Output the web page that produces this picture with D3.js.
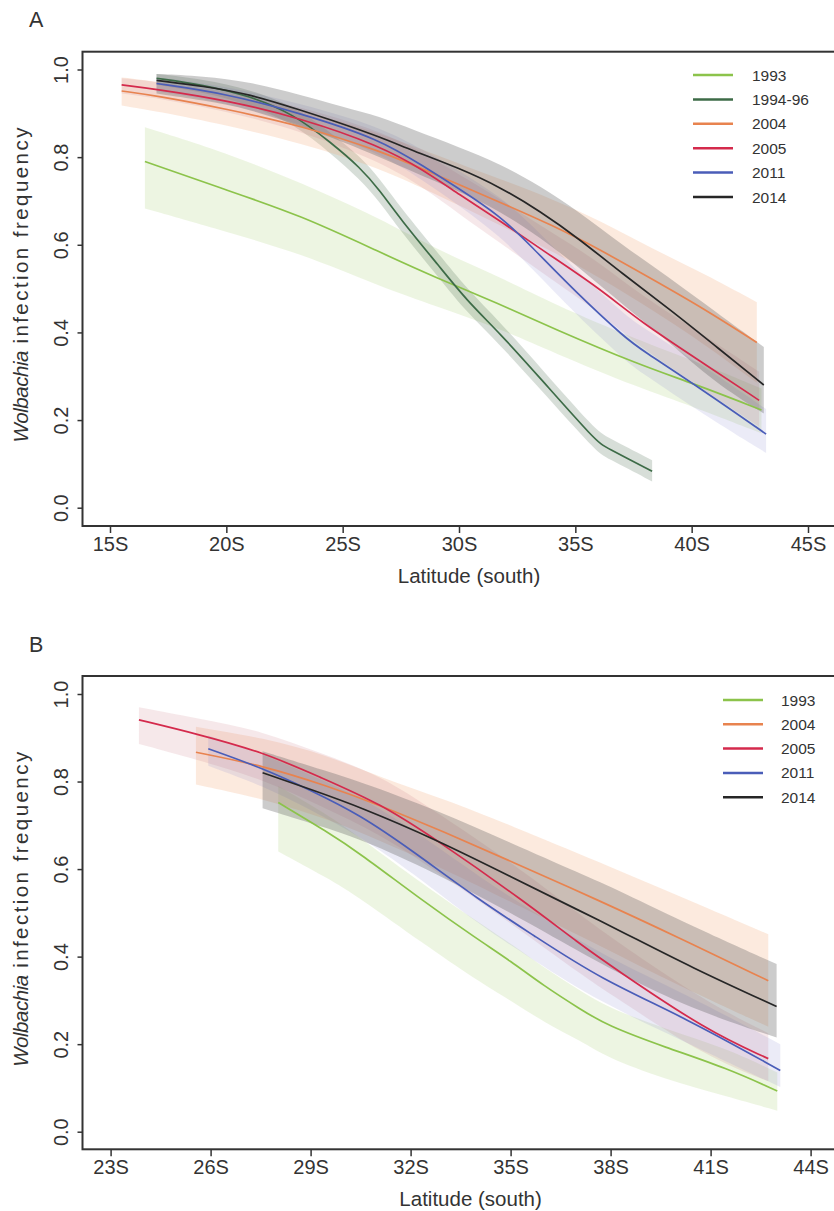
<!DOCTYPE html>
<meta charset="utf-8">
<style>
  body { margin: 0; background: #fff; }
  text { font-family: "Liberation Sans", Arial, sans-serif; fill: #333; }
</style>
<div id="chart"></div>
<script src="https://cdnjs.cloudflare.com/ajax/libs/d3/7.8.5/d3.min.js"></script>
<script>

// rows: [latitude south, fitted frequency, lower band, upper band]
const a1993 = [[16.5, 0.79, 0.683, 0.868], [20, 0.725, 0.63, 0.81], [23.2, 0.667, 0.58, 0.742],
               [26.6, 0.583, 0.505, 0.66], [29, 0.525, 0.46, 0.59], [31.7, 0.466, 0.41, 0.528],
               [34, 0.41, 0.355, 0.466], [37.8, 0.325, 0.272, 0.38], [40, 0.285, 0.232, 0.338],
               [43, 0.223, 0.17, 0.272]];
const a1994 = [[17, 0.98, 0.965, 0.99], [19, 0.965, 0.948, 0.978], [21, 0.94, 0.92, 0.955],
               [22.9, 0.898, 0.876, 0.916], [24.5, 0.833, 0.808, 0.856], [25.74, 0.777, 0.75, 0.802],
               [26.6, 0.724, 0.697, 0.75], [27.46, 0.66, 0.633, 0.687], [29.18, 0.549, 0.522, 0.576],
               [30.33, 0.473, 0.446, 0.5], [31.76, 0.398, 0.372, 0.424], [33.5, 0.295, 0.27, 0.32],
               [35.9, 0.151, 0.128, 0.176], [36.3, 0.138, 0.115, 0.163], [38.3, 0.083, 0.06, 0.108]];
const a2004 = [[15.5, 0.951, 0.918, 0.982], [17, 0.94, 0.905, 0.972], [20, 0.91, 0.873, 0.944],
               [23.2, 0.872, 0.832, 0.908], [26.6, 0.815, 0.775, 0.855], [29, 0.76, 0.715, 0.805],
               [31.76, 0.697, 0.645, 0.75], [34, 0.645, 0.585, 0.705], [36.06, 0.589, 0.525, 0.655],
               [38.35, 0.52, 0.45, 0.59], [40.5, 0.455, 0.375, 0.535], [42.8, 0.377, 0.285, 0.469]];
const a2005 = [[15.5, 0.965, 0.945, 0.98], [17, 0.955, 0.935, 0.972], [20, 0.93, 0.905, 0.952],
               [23.2, 0.889, 0.86, 0.915], [26.6, 0.826, 0.79, 0.86], [28.5, 0.77, 0.73, 0.81],
               [30, 0.715, 0.67, 0.76], [31.76, 0.655, 0.605, 0.705], [33.6, 0.587, 0.535, 0.64],
               [36.06, 0.5, 0.445, 0.56], [37.8, 0.424, 0.365, 0.485], [40.5, 0.33, 0.27, 0.395],
               [42.9, 0.245, 0.185, 0.31]];
const a2011 = [[17, 0.968, 0.95, 0.982], [20, 0.945, 0.925, 0.962], [23.2, 0.9, 0.875, 0.922],
               [26.6, 0.841, 0.81, 0.87], [28.5, 0.778, 0.745, 0.815], [30, 0.728, 0.69, 0.77],
               [31.76, 0.666, 0.62, 0.71], [33.05, 0.6, 0.55, 0.65], [35.05, 0.49, 0.44, 0.54],
               [37.2, 0.385, 0.333, 0.437], [37.8, 0.362, 0.31, 0.415], [40.5, 0.268, 0.213, 0.323],
               [43.2, 0.168, 0.125, 0.225]];
const a2014 = [[17, 0.975, 0.945, 0.99], [19, 0.962, 0.93, 0.985], [21, 0.944, 0.91, 0.972],
               [23.2, 0.907, 0.87, 0.942], [25, 0.876, 0.835, 0.915], [26.6, 0.846, 0.8, 0.893],
               [28, 0.815, 0.767, 0.863], [30, 0.775, 0.722, 0.823], [31.76, 0.732, 0.677, 0.785],
               [33.5, 0.676, 0.616, 0.734], [35.2, 0.612, 0.547, 0.674], [37, 0.535, 0.465, 0.6],
               [39, 0.455, 0.38, 0.527], [41, 0.37, 0.285, 0.448], [43.1, 0.28, 0.215, 0.367]];

const b1993 = [[28.03, 0.752, 0.64, 0.79], [29.5, 0.685, 0.58, 0.725], [30.48, 0.636, 0.534, 0.672],
               [32.37, 0.527, 0.43, 0.565], [34, 0.44, 0.345, 0.48], [35, 0.39, 0.3, 0.43],
               [36, 0.333, 0.25, 0.375], [37.09, 0.28, 0.208, 0.322], [37.88, 0.243, 0.17, 0.285],
               [39.63, 0.193, 0.12, 0.235], [41.5, 0.145, 0.08, 0.19], [43, 0.093, 0.048, 0.135]];
const b2004 = [[25.56, 0.867, 0.793, 0.925], [27.58, 0.836, 0.761, 0.9], [29.5, 0.79, 0.715, 0.86],
               [31.08, 0.746, 0.665, 0.81], [33, 0.685, 0.6, 0.76], [35, 0.618, 0.525, 0.7],
               [37.69, 0.527, 0.425, 0.615], [40, 0.445, 0.335, 0.54], [42.73, 0.345, 0.24, 0.451]];
const b2005 = [[23.85, 0.941, 0.886, 0.97], [25.58, 0.909, 0.85, 0.945], [27.58, 0.867, 0.805, 0.915],
               [29.28, 0.81, 0.745, 0.865], [31.08, 0.75, 0.68, 0.815], [32.78, 0.667, 0.595, 0.73],
               [35.4, 0.527, 0.455, 0.595], [37.09, 0.428, 0.36, 0.495], [38.08, 0.375, 0.31, 0.44],
               [40.88, 0.231, 0.17, 0.295], [42.73, 0.167, 0.115, 0.225]];
const b2011 = [[25.93, 0.875, 0.836, 0.905], [27.58, 0.83, 0.79, 0.862], [29, 0.78, 0.735, 0.815],
               [30.48, 0.724, 0.675, 0.765], [32, 0.645, 0.595, 0.695], [34.1, 0.527, 0.47, 0.58],
               [35.64, 0.451, 0.395, 0.505], [37.69, 0.349, 0.295, 0.405], [40.25, 0.26, 0.205, 0.315],
               [43.09, 0.14, 0.102, 0.2]];
const b2014 = [[27.56, 0.82, 0.739, 0.869], [29, 0.782, 0.705, 0.835], [30.48, 0.742, 0.67, 0.8],
               [32.78, 0.667, 0.59, 0.735], [35, 0.583, 0.5, 0.66], [37.09, 0.504, 0.41, 0.59],
               [38.29, 0.459, 0.36, 0.55], [40.43, 0.375, 0.28, 0.47], [42.98, 0.286, 0.215, 0.383]];

const yTicks = [0, 0.2, 0.4, 0.6, 0.8, 1.0];
const xTicksA = [15, 20, 25, 30, 35, 40, 45];
const xTicksB = [23, 26, 29, 32, 35, 38, 41, 44];

const style = {
    "1993":    { line: "#8cc34b", band: "#8cc34b", op: 0.16 },
    "1994-96": { line: "#3d6b47", band: "#4a6b4f", op: 0.22 },
    "2004":    { line: "#e8834f", band: "#f2a676", op: 0.24 },
    "2005":    { line: "#d42a4c", band: "#c9707c", op: 0.16 },
    "2011":    { line: "#4a5db8", band: "#8080cc", op: 0.16 },
    "2014":    { line: "#262626", band: "#555555", op: 0.3 }
};

const panels = [
    { label: "A", top: 51.7, bottom: 526, y0: 507.7, y1: 69.5,
      x: [15, 45], xr: [110, 808], ticks: xTicksA,
      legend: { x: 693, tx: 752, y: 75, step: 24.4 },
      series: [["1993", a1993], ["1994-96", a1994], ["2004", a2004],
               ["2005", a2005], ["2011", a2011], ["2014", a2014]] },
    { label: "B", top: 676, bottom: 1149.3, y0: 1131.7, y1: 694,
      x: [23, 44], xr: [110.6, 810.6], ticks: xTicksB,
      legend: { x: 723, tx: 781, y: 700, step: 24.3 },
      series: [["1993", b1993], ["2004", b2004], ["2005", b2005],
               ["2011", b2011], ["2014", b2014]] }
];

const width = 834, height = 1211, left = 82.5;

const svg = d3.select("#chart").append("svg")
    .attr("width", width).attr("height", height);

panels.forEach(p => {
    const x = d3.scaleLinear().domain(p.x).range(p.xr);
    const y = d3.scaleLinear().domain([0, 1]).range([p.y0, p.y1]);
    const g = svg.append("g");

    // bands first, then the fitted lines
    p.series.forEach(([name, rows]) => {
        const s = style[name];
        g.append("path")
            .datum(rows)
            .attr("fill", s.band)
            .attr("fill-opacity", s.op)
            .attr("d", d3.area()
                .curve(d3.curveBasis)
                .x(d => x(d[0]))
                .y0(d => y(d[2]))
                .y1(d => y(d[3])));
    });
    p.series.forEach(([name, rows]) => {
        g.append("path")
            .datum(rows)
            .attr("fill", "none")
            .attr("stroke", style[name].line)
            .attr("stroke-width", 1.7)
            .attr("d", d3.line()
                .curve(d3.curveBasis)
                .x(d => x(d[0]))
                .y(d => y(d[1])));
    });

    // frame
    g.append("rect")
        .attr("x", left).attr("y", p.top)
        .attr("width", width + 20 - left).attr("height", p.bottom - p.top)
        .attr("fill", "none").attr("stroke", "#333").attr("stroke-width", 2);

    const xAxis = g.append("g")
        .attr("transform", `translate(0,${p.bottom})`)
        .call(d3.axisBottom(x).tickValues(p.ticks).tickFormat(d => d + "S")
            .tickSize(7).tickSizeOuter(0).tickPadding(4));
    xAxis.select(".domain").remove();
    xAxis.selectAll("line").attr("stroke", "#333").attr("stroke-width", 1.5);
    xAxis.selectAll("text").attr("font-size", 20).attr("fill", "#333")
        .style("font-family", "'Liberation Sans', Arial, sans-serif");

    const yAxis = g.append("g")
        .attr("transform", `translate(${left},0)`)
        .call(d3.axisLeft(y).tickValues(yTicks).tickFormat(d3.format(".1f"))
            .tickSize(5).tickSizeOuter(0));
    yAxis.select(".domain").remove();
    yAxis.selectAll("line").attr("stroke", "#333").attr("stroke-width", 1.5);
    yAxis.selectAll("text")
        .attr("x", null).attr("dy", null)
        .attr("text-anchor", "middle")
        .attr("transform", "translate(-15,0) rotate(-90)")
        .attr("font-size", 20).attr("fill", "#333")
        .style("font-family", "'Liberation Sans', Arial, sans-serif");

    // axis titles
    g.append("text")
        .attr("x", (x(p.x[0]) + x(p.x[1])) / 2 + 10)
        .attr("y", p.bottom + 57)
        .attr("text-anchor", "middle")
        .attr("font-size", 20.5)
        .text("Latitude (south)");

    const mid = (p.y0 + p.y1) / 2;
    g.append("text")
        .attr("transform", `translate(28,${mid + 154}) rotate(-90)`)
        .attr("font-size", 20.5)
        .attr("font-style", "italic")
        .attr("textLength", 92)
        .attr("lengthAdjust", "spacing")
        .text("Wolbachia");
    g.append("text")
        .attr("transform", `translate(28,${mid + 55}) rotate(-90)`)
        .attr("font-size", 20.5)
        .attr("textLength", 216)
        .attr("lengthAdjust", "spacing")
        .text("infection frequency");

    // panel letter
    g.append("text")
        .attr("x", 29).attr("y", p.top - 24.5)
        .attr("font-size", 21.5)
        .text(p.label);

    // legend
    const lg = g.append("g");
    p.series.forEach(([name], i) => {
        const yy = p.legend.y + i * p.legend.step;
        lg.append("line")
            .attr("x1", p.legend.x).attr("x2", p.legend.x + 40)
            .attr("y1", yy).attr("y2", yy)
            .attr("stroke", style[name].line).attr("stroke-width", 2.5);
        lg.append("text")
            .attr("x", p.legend.tx).attr("y", yy)
            .attr("dy", "0.36em")
            .attr("font-size", 15.5)
            .text(name);
    });
});

</script>
